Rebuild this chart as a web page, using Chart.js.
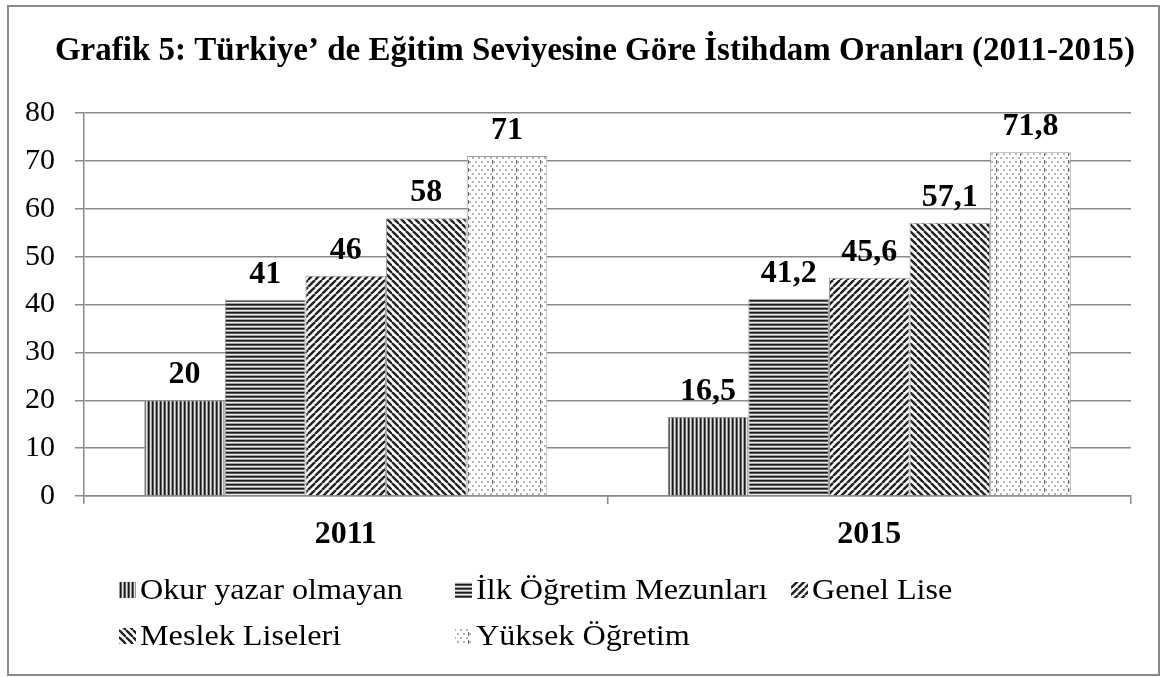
<!DOCTYPE html>
<html>
<head>
<meta charset="utf-8">
<script src="https://cdn.jsdelivr.net/npm/chart.js@4.4.0/dist/chart.umd.min.js"></script>
<style>
  html, body { margin: 0; padding: 0; background: #fff; }
  #frame { position: absolute; left: 7px; top: 5px; width: 1149px; height: 667px; border: 2px solid #8a8a8a; }
  #chart { position: absolute; left: 0; top: 0; }
</style>
</head>
<body>
<div id="frame"></div>
<canvas id="chart" width="1161" height="677"></canvas>
<script>
const years = ['2011', '2015'];
const seriesNames = ['Okur yazar olmayan', 'İlk Öğretim Mezunları', 'Genel Lise', 'Meslek Liseleri', 'Yüksek Öğretim'];
const okurYazarOlmayan = [20, 16.5];
const ilkOgretim = [41, 41.2];
const genelLise = [46, 45.6];
const meslekLiseleri = [58, 57.1];
const yuksekOgretim = [71, 71.8];
const yTicks = [0, 10, 20, 30, 40, 50, 60, 70, 80];

const SERIF = '"Liberation Serif", "Times New Roman", serif';

function makeTile(w, h, draw) {
    const c = document.createElement('canvas');
    c.width = w;
    c.height = h;
    const g = c.getContext('2d');
    g.fillStyle = '#fff';
    g.fillRect(0, 0, w, h);
    draw(g, w, h);
    return document.createElement('canvas').getContext('2d').createPattern(c, 'repeat');
}

// vertical stripes
const patVertical = makeTile(4, 4, (g, w, h) => {
    const cols = ['#1c1c1c', '#5a5a5a', '#e6e6e6', '#9a9a9a'];
    cols.forEach((col, i) => { g.fillStyle = col; g.fillRect(i, 0, 1, h); });
});
// horizontal stripes
const patHorizontal = makeTile(4, 4, (g, w, h) => {
    const rows = ['#1c1c1c', '#5a5a5a', '#ececec', '#a0a0a0'];
    rows.forEach((col, i) => { g.fillStyle = col; g.fillRect(0, i, w, 1); });
});
// wide upward diagonal
const patUp = makeTile(7, 7, (g, w, h) => {
    g.strokeStyle = '#222';
    g.lineWidth = 2.4;
    for (let k = -1; k <= 1; k++) {
        g.beginPath();
        g.moveTo(k * w, h);
        g.lineTo(k * w + w, 0);
        g.stroke();
    }
});
// wide downward diagonal
const patDown = makeTile(7, 7, (g, w, h) => {
    g.strokeStyle = '#222';
    g.lineWidth = 2.4;
    for (let k = -1; k <= 1; k++) {
        g.beginPath();
        g.moveTo(k * w, 0);
        g.lineTo(k * w + w, h);
        g.stroke();
    }
});
// light dotted
const patDots = makeTile(24, 8, (g, w, h) => {
    g.fillStyle = '#b4b4b4';
    for (let x = 1; x < w; x += 6) {
        g.fillRect(x, 1, 2, 2);
        g.fillRect(x + 3, 5, 2, 2);
    }
    g.fillStyle = '#666';
    g.fillRect(12, 0, 1, 4);
});

const patterns = [patVertical, patHorizontal, patUp, patDown, patDots];
const values = [okurYazarOlmayan, ilkOgretim, genelLise, meslekLiseleri, yuksekOgretim];

const frameText = {
    id: 'frameText',
    afterDraw(chart) {
        const ctx = chart.ctx;
        ctx.save();
        ctx.fillStyle = '#000';
        ctx.font = 'bold 33px ' + SERIF;
        ctx.textAlign = 'center';
        ctx.textBaseline = 'middle';
        ctx.fillText('Grafik 5: Türkiye’ de Eğitim Seviyesine Göre İstihdam Oranları (2011-2015)', 595, 51);

        // legend laid out in equal columns like the original
        const cols = [119, 455, 791];
        const rows = [590, 636];
        ctx.font = '29px ' + SERIF;
        ctx.textAlign = 'left';
        seriesNames.forEach((name, i) => {
            const x = cols[i % 3];
            const y = rows[Math.floor(i / 3)];
            ctx.fillStyle = patterns[i];
            ctx.fillRect(x, y - 8, 17, 16);
            ctx.fillStyle = '#000';
            ctx.save();
            ctx.translate(x + 21, y + 1);
            ctx.scale(1.11, 1);
            ctx.fillText(name, 0, 0);
            ctx.restore();
        });
        ctx.restore();
    }
};

const valueLabels = {
    id: 'valueLabels',
    afterDatasetsDraw(chart) {
        const ctx = chart.ctx;
        ctx.save();
        ctx.fillStyle = '#000';
        ctx.font = 'bold 32px ' + SERIF;
        ctx.textAlign = 'center';
        ctx.textBaseline = 'alphabetic';
        chart.data.datasets.forEach((ds, i) => {
            chart.getDatasetMeta(i).data.forEach((bar, j) => {
                ctx.fillText(String(ds.data[j]).replace('.', ','), bar.x, bar.y - 17);
            });
        });
        ctx.restore();
    }
};

new Chart(document.getElementById('chart'), {
    type: 'bar',
    data: {
        labels: years,
        datasets: seriesNames.map((name, i) => ({
            label: name,
            data: values[i],
            backgroundColor: patterns[i],
            borderColor: '#9c9c9c',
            borderWidth: 1,
            categoryPercentage: 0.77,
            barPercentage: 1.0
        }))
    },
    options: {
        responsive: false,
        animation: false,
        layout: { padding: { left: 0, right: 30, top: 113, bottom: 121 } },
        plugins: {
            legend: { display: false },
            title: { display: false },
            tooltip: { enabled: false }
        },
        scales: {
            x: {
                afterFit(scale) { scale.height = 60; },
                grid: { drawOnChartArea: false, drawTicks: true, tickLength: 8, color: '#8a8a8a', lineWidth: 1.5, offset: true },
                border: { display: true, color: '#8a8a8a', width: 1.5 },
                ticks: { color: '#000', padding: 12, font: { family: SERIF, size: 32, weight: 'bold' } }
            },
            y: {
                min: 0,
                max: 80,
                afterFit(scale) { scale.width = 84; },
                afterBuildTicks(scale) { scale.ticks = yTicks.map(v => ({ value: v })); },
                grid: { color: '#8a8a8a', lineWidth: 1.5, tickLength: 9 },
                border: { display: true, color: '#8a8a8a', width: 1.5 },
                ticks: { color: '#000', padding: 20, font: { family: SERIF, size: 30 } }
            }
        }
    },
    plugins: [valueLabels, frameText]
});
</script>
</body>
</html>
